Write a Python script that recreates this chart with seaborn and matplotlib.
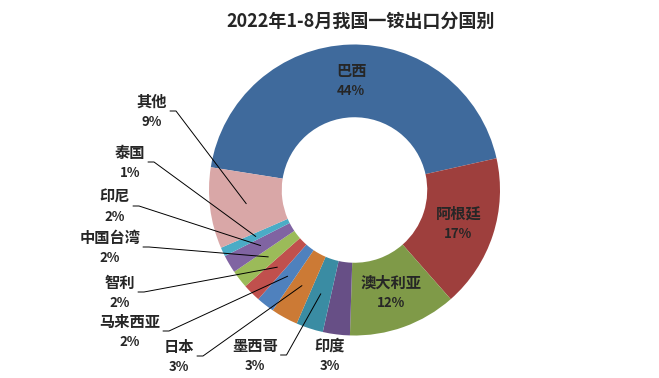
import matplotlib
matplotlib.use("Agg")
import numpy as np
import matplotlib.pyplot as plt
import seaborn as sns

# ── data ───
countries = ["巴西", "阿根廷", "澳大利亚", "印度", "墨西哥", "日本",
             "马来西亚", "智利", "中国台湾", "印尼", "泰国", "其他"]
shares = [44, 17, 12, 3, 3, 3, 2, 2, 2, 2, 1, 9]
colors = ["#3F6A9C", "#9E3F3D", "#7F9A48", "#674F86", "#3A8CA3", "#CC7A35",
          "#4F81BD", "#C0504D", "#9BBB59", "#8064A2", "#4BACC6", "#D9A7A7"]
title = "2022年1-8月我国一铵出口分国别"

# labels drawn inside the ring, the rest go outside with leader lines
inside = ["巴西", "阿根廷", "澳大利亚"]
no_leader = ["印度"]

# outer label layout (pixel positions, y from top)
label_pos = {
    "其他": (152, 102), "泰国": (130, 153), "印尼": (115, 197),
    "中国台湾": (110, 238), "智利": (120, 283), "马来西亚": (130, 322),
    "日本": (179, 347), "墨西哥": (255, 346), "印度": (330, 346),
}

# ── figure ───
sns.set_theme(style="white")
plt.rcParams['font.family'] = ['Noto Sans CJK SC', 'DejaVu Sans']

W, H = 659, 378
fig = plt.figure(figsize=(W / 100, H / 100), dpi=100)
ax = fig.add_axes([0, 0, 1, 1])

cx, cy, R = 354.5, H - 190, 145.5
wedges, _ = ax.pie(shares, colors=colors, startangle=171, counterclock=False,
                   center=(cx, cy), radius=R,
                   wedgeprops=dict(width=R * 0.5, linewidth=0))
ax.set_xlim(0, W)
ax.set_ylim(0, H)
ax.set_aspect('equal')
ax.axis('off')

name_fs, pct_fs = 11, 9.5

for w, name, v in zip(wedges, countries, shares):
    mid = np.deg2rad((w.theta1 + w.theta2) / 2)
    ax_x = cx + 0.75 * R * np.cos(mid)
    ax_y = cy + 0.75 * R * np.sin(mid)
    if name in inside:
        ax.text(ax_x, ax_y + 10, name, ha='center', va='center',
                fontsize=name_fs, fontweight='bold')
        ax.text(ax_x, ax_y - 10, f"{v}%", ha='center', va='center',
                fontsize=pct_fs, fontweight='bold')
        continue
    lx, ly = label_pos[name]
    ly = H - ly
    ax.text(lx, ly, name, ha='center', va='center',
            fontsize=name_fs, fontweight='bold')
    ax.text(lx, ly - 20, f"{v}%", ha='center', va='center',
            fontsize=pct_fs, fontweight='bold')
    if name not in no_leader:
        sx = lx + 7.5 * len(name) + 3
        sy = ly - 9
        ax.plot([sx, sx + 6, ax_x], [sy, sy, ax_y], color='black', lw=0.7)

fig.text(361 / W, 1 - 21 / H, title, ha='center', va='center',
         fontsize=13, fontweight='bold')

fig.savefig("out.png", dpi=100)
